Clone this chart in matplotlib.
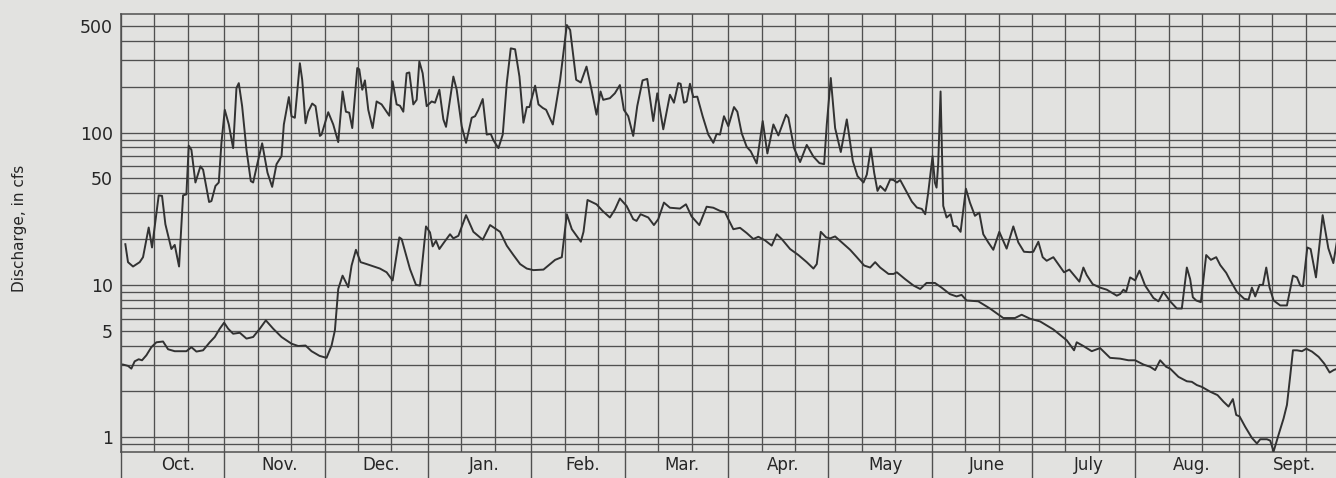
import matplotlib
matplotlib.use("Agg")
import matplotlib.pyplot as plt
from matplotlib.ticker import NullLocator

# Water year, October through September
months = ["Oct.", "Nov.", "Dec.", "Jan.", "Feb.", "Mar.", "Apr.", "May",
          "June", "July", "Aug.", "Sept."]
month_days = [31, 30, 31, 31, 28, 31, 30, 31, 30, 31, 31, 30]

# Upper hydrograph: day of water year, discharge (cfs)
upper_day = [
    1.3, 2.1, 3.6, 5.6, 6.6, 8.3, 9.3, 10.9, 11.3, 12.3, 13.3, 15.1, 16.1, 17.4,
    18.6, 19.6, 20.3, 21.1, 22.3, 23.8, 24.6, 26.4, 27.1, 28.3, 29.3, 30.1, 31.1,
    32.3, 33.6, 34.6, 35.3, 36.3, 37.6, 38.9, 39.6, 40.9, 42.3, 43.9, 45.3, 46.6,
    48.1, 48.8, 50.3, 51.1, 52.1, 53.6, 54.3, 55.3, 56.1, 57.3, 58.3, 59.6,
    60.1, 62.1, 63.6, 65.1, 66.4, 67.4, 68.4, 69.3, 70.8, 71.4, 72.3, 73.1, 74.1,
    75.4, 76.6, 78.1, 80.4, 81.4, 82.6, 83.6, 84.6, 85.6, 86.4, 87.6, 88.6, 89.4,
    90.4, 91.6, 93.1, 94.1, 95.4, 96.6, 97.4, 99.6, 100.6, 102.1, 103.4, 105.1,
    106.1, 107.1, 108.4, 109.6, 110.8, 111.6, 113.1, 114.4, 115.6, 116.8, 118.1,
    119.4, 120.6, 121.6,
    122.4, 124.1, 125.1, 126.4, 127.4, 129.4, 131.6, 133.6, 134.6, 136.4, 137.8,
    139.5, 141.0, 142.5, 143.7, 144.5, 146.5, 148.0, 149.5, 150.7, 152.0, 153.5,
    154.7, 156.3, 157.7, 159.5, 160.7, 162.5, 164.5, 165.7, 167.0, 167.7, 168.7,
    169.5, 170.5, 171.5, 172.7, 174.3, 176.0, 177.5, 178.5, 179.5, 180.7, 182.0,
    183.7, 184.7, 186.0, 187.5, 188.7, 190.5, 192.3, 193.7, 195.5, 197.0, 199.3,
    200.0, 201.7, 203.5, 205.5, 207.5, 209.3, 210.7, 211.5, 212.7, 214.0, 215.7,
    217.5, 219.3, 220.7, 222.5, 223.5, 224.7, 225.7, 226.7, 227.5, 229.0, 230.5,
    231.5, 232.5, 233.5, 235.0, 237.0, 238.5, 240.0, 241.0,
    241.9, 243.2, 243.9, 244.4, 244.9, 245.6, 246.4, 247.4, 248.6, 249.4, 250.4,
    251.6, 253.2, 254.4, 255.9, 257.2, 258.4, 259.9, 261.4, 263.2, 265.4, 267.4,
    268.9, 270.6, 272.4, 273.4, 274.9, 276.2, 277.4, 279.4, 282.6, 284.2, 287.2,
    288.4, 289.4, 291.2, 293.4, 295.4, 298.4, 299.4, 300.4, 301.2,
    302.4, 303.9, 305.2, 306.9, 309.4, 310.9, 312.4, 314.4, 316.4, 317.9, 319.4,
    320.4, 321.2, 322.2, 323.6, 325.2, 326.6, 328.2, 329.4, 331.2, 332.4, 334.4,
    336.6, 337.9, 338.9, 339.9, 341.2, 342.2, 343.2, 344.2, 345.4, 347.4, 349.4,
    351.2, 352.4, 353.4, 354.2, 355.5, 356.5, 358.1, 360.1, 361.8, 363.3, 364.5,
]
upper_cfs = [
    18.5, 14.1, 13.2, 14.1, 15.2, 23.8, 17.6, 33, 38.7, 38.4, 25, 17.2, 18.3, 13.2,
    38.7, 39.3, 82, 77, 47, 60, 57, 35, 35.5, 44.6, 47, 85.6, 141,
    113, 79, 196, 211, 149, 77, 48, 47, 63, 85, 54.5, 44, 62,
    70, 113, 171, 128, 125, 285, 222, 115, 137, 155, 149, 95,
    97, 136, 113, 86.5, 186, 137, 135, 107, 265, 260, 191, 220, 141,
    107, 160, 153, 129, 217, 153, 150, 137, 245, 248, 153, 164, 293,
    245, 149, 160, 157, 191, 122, 109, 233, 191, 110, 85.6, 125,
    128, 141, 166, 97, 98, 89, 79, 97, 211, 357, 352,
    233, 116, 147,
    147, 203, 153, 145, 141, 113, 222, 508, 471, 222, 213,
    271, 191, 131, 186, 164, 168, 181, 205, 141, 128, 95,
    149, 220, 225, 119, 181, 105, 177, 157, 211, 209, 157,
    160, 209, 171, 172, 128, 97, 85.6, 98, 97, 128, 110,
    147, 137, 99, 80.6, 75.4, 62.7, 119, 72.9, 113, 95.7, 131,
    125, 79, 64, 83, 69.5, 63, 62, 113, 228, 107, 74.5,
    122, 65, 51.8, 47, 53, 79, 54.5, 41.4, 44.6, 41.4, 49.2,
    48.8, 47, 48.8, 42.4, 35.2, 32.2, 31.5, 29.1,
    40.3, 70, 46.9, 43.5, 63, 186, 33, 27.7, 29.1, 24.4, 24.2,
    22.3, 42.8, 34.7, 28.4, 29.8, 21.5, 19, 17, 22.3, 17.3, 24.2,
    19, 16.5, 16.4, 16.5, 19.2, 15.2, 14.4, 15.2, 12.1, 12.6, 10.5,
    13, 11.6, 10.1, 9.6, 9.3, 8.5, 8.7, 9.3, 9.0,
    11.2, 10.7, 12.4, 9.9, 8.2, 7.8, 9.0, 7.8, 7.0, 7.0, 13,
    10.9, 8.3, 7.9, 7.7, 15.7, 14.6, 15.2, 13.5, 12, 10.7, 9.0,
    8.1, 8.0, 9.6, 8.4, 10, 10, 13, 9.6, 7.9, 7.33, 7.33,
    11.5, 11.2, 9.9, 9.8, 17.6, 17.2, 11.2, 28.7, 17.4, 13.9, 20,
]

# Lower hydrograph: day of water year, discharge (cfs)
lower_day = [
    0.6, 2.1, 3.1, 4.1, 5.3, 6.3, 7.6, 9.1, 10.6, 12.6, 14.1, 16.1, 19.6, 21.1,
    22.6, 24.6, 26.6, 28.1, 29.6, 30.9, 32.1, 33.6, 35.6, 37.6, 39.6, 41.6, 43.4,
    45.6, 48.1, 51.1, 53.1, 55.3, 57.1, 59.5,
    61.6, 63.1, 64.1, 65.1, 66.4, 68.1, 69.1, 70.4, 71.8, 73.6, 77.6, 79.6, 81.4,
    83.4, 84.1, 86.6, 88.4, 89.6, 91.4, 92.6, 93.4, 94.4, 95.4, 96.8, 98.6, 99.6,
    101.1, 103.4, 105.6, 108.4, 110.6, 113.6, 115.6, 117.6, 119.6,
    121.6, 123.6, 126.6, 128.6, 130.1, 132.1, 133.6, 135.1, 137.8, 138.6, 139.8,
    142.5, 144.3, 146.5, 148.0, 149.5, 151.5, 153.5, 154.5, 155.7, 158.0, 159.7,
    161.0, 162.7, 164.5, 167.5, 169.3, 171.0, 173.3, 175.5, 177.5, 179.5,
    181.0, 182.0, 183.5, 185.5, 187.5, 189.5, 191.0, 193.0, 195.0, 196.5, 198.0,
    200.5, 203.0, 205.5, 207.5, 208.5, 209.7, 211.3, 212.5, 214.0, 216.0, 218.5,
    220.5, 222.7, 224.5, 226.0, 227.5, 230.0, 231.5, 232.5, 235.0, 237.5, 239.5,
    241.4, 243.9, 245.9, 248.4, 250.4, 251.9, 253.4, 256.9, 260.4, 264.4, 267.9,
    269.9, 272.4, 275.4, 279.4, 283.4, 285.6, 286.4, 288.4, 290.9, 293.4, 296.4,
    299.4,
    301.9, 303.9, 306.4, 308.4, 309.9, 311.4, 313.2, 314.4, 316.9, 319.4, 320.9,
    322.4, 323.9, 326.4, 328.6, 330.4, 331.9, 333.2, 334.2, 335.2, 336.9, 338.9,
    340.4, 341.4, 343.4, 344.4, 345.4, 346.9, 348.4, 349.4, 350.4, 351.2, 352.4,
    353.9, 355.2, 356.9, 358.9, 360.6, 362.2, 363.4, 364.5,
]
lower_cfs = [
    3.0, 2.94, 2.82, 3.15, 3.25, 3.2, 3.45, 3.9, 4.2, 4.25, 3.78, 3.67, 3.67, 3.9,
    3.65, 3.72, 4.2, 4.55, 5.16, 5.65, 5.16, 4.78, 4.85, 4.44, 4.55, 5.16, 5.85,
    5.16, 4.55, 4.11, 3.97, 4.0, 3.67, 3.42,
    3.32, 4.0, 5.03, 9.4, 11.5, 9.66, 13.4, 17, 14.1, 13.7, 12.8, 12.1, 10.7,
    20.5, 20, 12.7, 10, 9.9, 24.2, 22.1, 17.9, 19.5, 17.2, 19, 21.5, 20.2,
    21, 28.7, 22.3, 19.8, 24.7, 22.3, 18.1, 15.7, 13.7,
    12.8, 12.5, 12.6, 13.7, 14.6, 15.2, 29.1, 23.2, 19.2, 22.3, 36.1,
    33.8, 30.6, 27.7, 31.2, 36.9, 33, 27, 26.3, 29.1, 27.7, 24.7,
    27, 34.7, 32.1, 31.7, 33.8, 28.1, 24.7, 32.6, 32.1, 30.6,
    30, 27, 23.2, 23.7, 21.9, 20, 20.7, 19.6, 18.1, 21.5, 20,
    17.2, 15.7, 14.1, 12.8, 13.7, 22.3, 20.5, 20.2, 20.8, 19, 17,
    15.2, 13.4, 13, 14.1, 13, 11.8, 11.8, 12.1, 10.9, 9.9, 9.4,
    10.3, 10.3, 9.6, 8.7, 8.4, 8.6, 7.9, 7.8, 7.0, 6.06, 6.06,
    6.37, 6.0, 5.76, 5.1, 4.33, 3.72, 4.2, 3.97, 3.67, 3.85, 3.32,
    3.28,
    3.2, 3.2, 3.0, 2.9, 2.76, 3.2, 2.9, 2.82, 2.49, 2.33, 2.31,
    2.2, 2.14, 1.99, 1.89, 1.71, 1.59, 1.78, 1.40, 1.37, 1.17, 0.99,
    0.91, 0.97, 0.97, 0.95, 0.806, 1.04, 1.33, 1.63, 2.55, 3.72, 3.72,
    3.67, 3.81, 3.65, 3.37, 3.04, 2.66, 2.76, 2.82,
]

ytick_values = [1, 5, 10, 50, 100, 500]
ytick_labels = ["1", "5", "10", "50", "100", "500"]
ygrid_values = ([0.9] + list(range(1, 10)) + list(range(10, 100, 10))
                + list(range(100, 600, 100)))

W, H = 1336, 478
paper = "#e2e2e0"
ink = "#323232"
rule = "#505050"

fig = plt.figure(figsize=(W / 100, H / 100), dpi=100)
fig.patch.set_facecolor(paper)

# axes frame in pixel units: left, right (runs just past the sheet), top, bottom
px_l, px_r, px_t, px_b = 121, 1339, 14, 452
ax = fig.add_axes([px_l / W, 1 - px_b / H, (px_r - px_l) / W, (px_b - px_t) / H])
ax.set_facecolor(paper)
ax.set_yscale("log")
ax.set_xlim(0, sum(month_days))
ax.set_ylim(0.8, 600)

# horizontal rulings
for v in ygrid_values:
    ax.axhline(v, color=rule, lw=0.95, zorder=1)

# vertical rulings on the 1st, 11th and 21st of each month
month_start = [sum(month_days[:i]) for i in range(len(month_days))]
for s in month_start:
    for off in (0, 10, 20):
        ax.axvline(s + off, color=rule, lw=0.95, zorder=1)

ax.plot(upper_day, upper_cfs, color=ink, lw=1.4, zorder=3)
ax.plot(lower_day, lower_cfs, color=ink, lw=1.4, zorder=3)

ax.set_xticks([])
ax.yaxis.set_minor_locator(NullLocator())
ax.set_yticks(ytick_values)
ax.set_yticklabels(ytick_labels)
ax.tick_params(axis="y", length=0, pad=6, labelsize=12.5, labelcolor="#262626")
for sp in ax.spines.values():
    sp.set_color(rule)
    sp.set_linewidth(1.1)

# month strip under the chart
xt = ax.get_xaxis_transform()
for s in month_start:
    ax.plot([s, s], [0, -0.08], transform=xt, color=rule, lw=1.0, clip_on=False)
for name, s, n in zip(months, month_start, month_days):
    ax.text(s + n / 2 + 1.5, -0.030, name, transform=xt, ha="center", va="center",
            fontsize=12, color="#262626")

fig.text(20 / W, 1 - 228 / H, "Discharge, in cfs", rotation=90, ha="center",
         va="center", fontsize=11, color="#262626")

fig.savefig("out.png", dpi=100, facecolor=paper)
